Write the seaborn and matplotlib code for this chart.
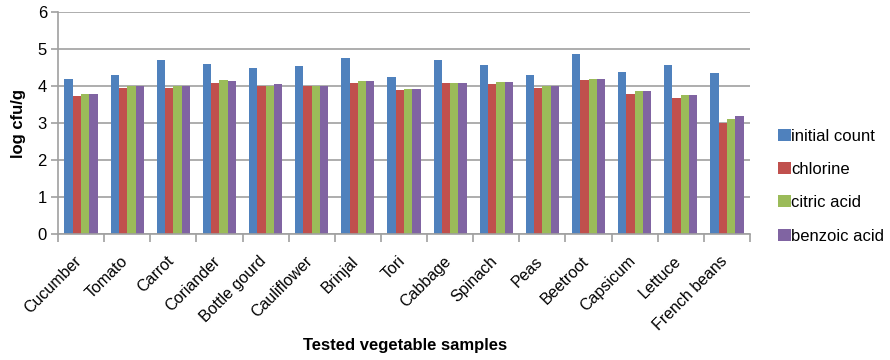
import numpy as np
import pandas as pd
import matplotlib
matplotlib.use("Agg")
import matplotlib.pyplot as plt
import matplotlib.transforms as mtransforms
import seaborn as sns

vegetables = ["Cucumber", "Tomato", "Carrot", "Coriander", "Bottle gourd",
              "Cauliflower", "Brinjal", "Tori", "Cabbage", "Spinach", "Peas",
              "Beetroot", "Capsicum", "Lettuce", "French beans"]
initial_count = [4.20, 4.31, 4.71, 4.60, 4.49, 4.53, 4.75, 4.24, 4.71, 4.56,
                 4.31, 4.86, 4.38, 4.56, 4.34]
chlorine = [3.73, 3.95, 3.95, 4.09, 4.00, 4.00, 4.09, 3.88, 4.09, 4.05,
            3.95, 4.16, 3.79, 3.68, 3.00]
citric_acid = [3.79, 4.01, 4.00, 4.16, 4.01, 4.01, 4.13, 3.91, 4.09, 4.10,
               3.99, 4.20, 3.87, 3.76, 3.11]
benzoic_acid = [3.79, 4.00, 4.01, 4.13, 4.05, 4.01, 4.13, 3.91, 4.09, 4.10,
                3.99, 4.20, 3.87, 3.76, 3.19]
treatments = ["initial count", "chlorine", "citric acid", "benzoic acid"]
colors = ["#4F81BD", "#C0504D", "#9BBB59", "#8064A2"]

series = [initial_count, chlorine, citric_acid, benzoic_acid]
df = pd.DataFrame({
    "vegetable": np.tile(vegetables, len(treatments)),
    "treatment": np.repeat(treatments, len(vegetables)),
    "value": np.concatenate(series),
})

sns.set_theme(style="white", rc={"text.color": "black",
                                 "axes.labelcolor": "black",
                                 "xtick.color": "black",
                                 "ytick.color": "black"})
plt.rcParams["font.family"] = ["Liberation Sans", "DejaVu Sans"]

fig = plt.figure(figsize=(8.9, 3.6), dpi=100)
ax = fig.add_axes([58 / 890, 1 - 234 / 360, 692 / 890, 222 / 360])

sns.barplot(data=df, x="vegetable", y="value", hue="treatment",
            hue_order=treatments, palette=colors, width=0.72, gap=0,
            saturation=1, errorbar=None, linewidth=0, ax=ax)

n = len(vegetables)
ax.set_xlim(-0.5, n - 0.5)
ax.set_ylim(0, 6)
ax.set_yticks(range(0, 7))
ax.yaxis.grid(True, color="#a0a0a0", linewidth=1.2)
ax.set_axisbelow(True)

for side in ["top", "right"]:
    ax.spines[side].set_visible(False)
for side in ["left", "bottom"]:
    ax.spines[side].set_color("#a0a0a0")
    ax.spines[side].set_linewidth(1.2)

# category separators as minor ticks below the axis
ax.set_xticks(np.arange(-0.5, n, 1.0), minor=True)
ax.tick_params(axis="x", which="minor", length=6, color="#a0a0a0",
               width=1.2, bottom=True)
ax.tick_params(axis="x", which="major", length=0, pad=14)
ax.tick_params(axis="y", length=5, color="#a0a0a0", labelcolor="black",
               width=1.2, left=True, labelsize=12, pad=3)
ax.set_xticks(range(n))
ax.set_xticklabels(vegetables, rotation=45, ha="right",
                   rotation_mode="anchor", fontsize=11.5, color="black")
shift = mtransforms.ScaledTranslation(-0.07, 0, fig.dpi_scale_trans)
for lbl in ax.get_xticklabels():
    lbl.set_transform(lbl.get_transform() + shift)

ax.set_ylabel("log cfu/g", fontsize=12, fontweight="bold", labelpad=8)
ax.set_xlabel("Tested vegetable samples", fontsize=12, fontweight="bold")
ax.xaxis.set_label_coords(0.501, -0.468)

handles, labels = ax.get_legend_handles_labels()
ax.get_legend().remove()
fig.legend(handles, labels, loc="center left",
           bbox_to_anchor=(778 / 890, 1 - 186 / 360),
           frameon=False, fontsize=12, handlelength=0.75, handleheight=0.75,
           handletextpad=0.05, labelspacing=1.1, borderaxespad=0,
           borderpad=0)

fig.savefig("out.png", dpi=100)
